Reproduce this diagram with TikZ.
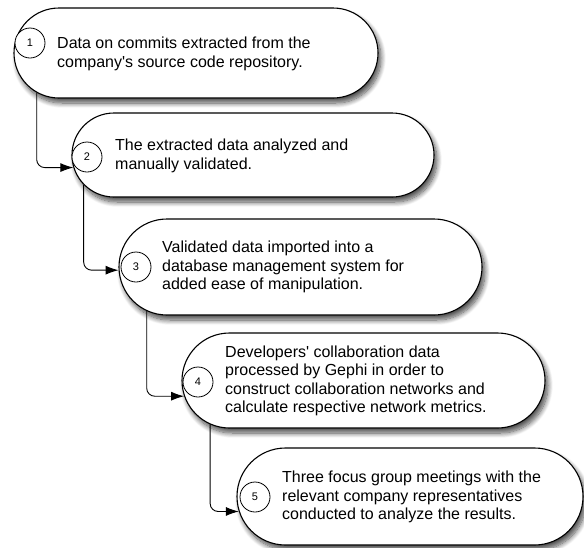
\documentclass[tikz,border=0pt]{standalone}
\usepackage{fontspec}
\setmainfont{Liberation Sans}
\usetikzlibrary{arrows.meta,shapes.misc,shadows.blur}

\tikzset{
  stage/.style={rounded rectangle, draw, line width=1.1pt, fill=white, inner sep=0pt,
    blur shadow={shadow xshift=3pt, shadow yshift=-5pt, shadow opacity=70,
      shadow blur steps=10, shadow blur radius=5pt}},
  stepnum/.style={circle, draw, line width=0.8pt, fill=white, minimum size=30pt,
    inner sep=0pt, font=\fontsize{11}{13}\selectfont},
  stagetext/.style={anchor=west, align=left, inner sep=0pt,
    font=\fontsize{16}{18.4}\selectfont},
  flow/.style={draw, line width=0.9pt, rounded corners=8pt,
    -{Latex[length=13pt,width=9pt]}}
}

\begin{document}
\begin{tikzpicture}[x=1pt,y=-1pt]
\useasboundingbox (0,0) rectangle (584,547);

% Stages
\node[stage, minimum width=364pt, minimum height=90pt] (s1) at (196,53) {};
\node[stage, minimum width=362pt, minimum height=84pt] (s2) at (253,155) {};
\node[stage, minimum width=363pt, minimum height=96pt] (s3) at (300.5,267) {};
\node[stage, minimum width=363pt, minimum height=95pt] (s4) at (363.5,380.5) {};
\node[stage, minimum width=346pt, minimum height=97pt] (s5) at (410,496.5) {};

% Step numbers
\node[stepnum] (n1) at (30,43) {1};
\node[stepnum] (n2) at (87,157) {2};
\node[stepnum] (n3) at (136,267) {3};
\node[stepnum] (n4) at (198,382) {4};
\node[stepnum] (n5) at (255,497) {5};

% Descriptions
\node[stagetext] (t1) at (57,54) {Data on commits extracted from the\\company\textquotesingle s source code repository.};
\node[stagetext] (t2) at (115,156) {The extracted data analyzed and\\manually validated.};
\node[stagetext] (t3) at (162,267) {Validated data imported into a\\database management system for\\added ease of manipulation.};
\node[stagetext] (t4) at (225,381) {Developers\textquotesingle\ collaboration data\\processed by Gephi in order to\\construct collaboration networks and\\calculate respective network metrics.};
\node[stagetext] (t5) at (282,497) {Three focus group meetings with the\\relevant company representatives\\conducted to analyze the results.};

% Flow between stages
\draw[flow] (s1.194) |- (s2.184);
\draw[flow] (s2.190) |- (s3.181);
\draw[flow] (s3.196) |- (s4.185);
\draw[flow] (s4.196) |- (s5.185);
\end{tikzpicture}
\end{document}
